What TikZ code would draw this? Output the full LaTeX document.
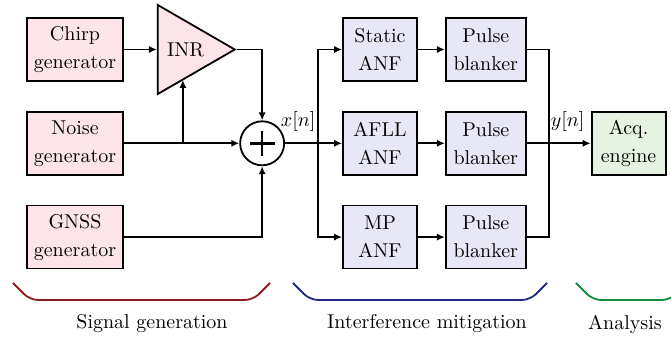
\documentclass[tikz,border=0pt]{standalone}
\usetikzlibrary{arrows.meta,positioning,calc,shapes.geometric}

\definecolor{genfill}{RGB}{252,228,232}
\definecolor{anffill}{RGB}{232,231,245}
\definecolor{acqfill}{RGB}{231,243,226}
\definecolor{gencol}{RGB}{140,28,32}
\definecolor{mitcol}{RGB}{32,40,140}
\definecolor{anacol}{RGB}{26,138,60}

\begin{document}
\begin{tikzpicture}[
  font=\fontsize{10}{14}\selectfont,
  box/.style={rectangle, draw, line width=0.9pt, minimum height=31.5pt, inner sep=0pt, align=center},
  gen/.style={box, fill=genfill, minimum width=48pt},
  anf/.style={box, fill=anffill, minimum width=37pt},
  blk/.style={box, fill=anffill, minimum width=40pt},
  acq/.style={box, fill=acqfill, minimum width=37pt},
  amp/.style={isosceles triangle, isosceles triangle stretches, draw, line width=0.9pt, fill=genfill,
    minimum width=44.5pt, minimum height=38.5pt, inner sep=0pt},
  sumnode/.style={circle, draw, line width=0.9pt, minimum size=22pt, inner sep=0pt},
  sig/.style={-{Latex[length=4pt,width=3.6pt]}, line width=0.8pt},
  wire/.style={line width=0.8pt},
  bus/.style={line width=1.1pt},
  brace/.style={line width=0.9pt, rounded corners=4pt}
]
  \useasboundingbox (0,0) rectangle (335.5pt,171.5pt);

  % signal generation
  \node[gen] (chirp) at (37.5pt,146.75pt) {Chirp\\generator};
  \node[gen, below=14.5pt of chirp] (noise) {Noise\\generator};
  \node[gen, below=14.5pt of noise] (gnss) {GNSS\\generator};
  \node[amp, right=16.5pt of chirp] (inr) {INR};
  \coordinate (inrout) at ($(inr.apex)+(12.5pt,0)$);
  \node[sumnode] (sum) at (inrout |- noise) {};
  \draw[line width=1.3pt] ($(sum.center)+(-6.25pt,0)$) -- ($(sum.center)+(6.25pt,0)$);
  \draw[line width=1.3pt] ($(sum.center)+(0,-6.25pt)$) -- ($(sum.center)+(0,6.25pt)$);

  % interference mitigation
  \node[anf] (stat) at (190pt,146.75pt) {Static\\ANF};
  \node[anf, below=14.5pt of stat] (afll) {AFLL\\ANF};
  \node[anf, below=14.5pt of afll] (mp) {MP\\ANF};
  \node[blk, right=13.5pt of stat] (blk1) {Pulse\\blanker};
  \node[blk, right=13.5pt of afll] (blk2) {Pulse\\blanker};
  \node[blk, right=13.5pt of mp] (blk3) {Pulse\\blanker};

  % analysis
  \node[acq, right=32pt of blk2] (acq) {Acq.\\engine};

  \coordinate (tap) at ($(noise.east)+(29.5pt,0)$);
  \coordinate (tapend) at ($(inr.apex)!0.662!(inr.right corner)$);
  \coordinate (split) at ($(sum.east)+(16.5pt,0)$);
  \coordinate (merge) at ($(blk2.east)+(11pt,0)$);

  \draw[sig] (chirp.east) -- (inr.west);
  \draw[sig] (inr.apex) -| (sum.north);
  \draw[bus] (noise.east) -- (tap);
  \draw[sig] (tap) -- (sum.west);
  \draw[sig] (tap) -- (tap |- tapend);
  \draw[sig] (gnss.east) -| (sum.south);
  \draw[bus] (sum.east) -- node[above=2pt, pos=0.4] {$x[n]$} (split);
  \draw[sig] (split) |- (stat.west);
  \draw[sig] (split) -- (afll.west);
  \draw[sig] (split) |- (mp.west);
  \draw[sig] (stat) -- (blk1);
  \draw[sig] (afll) -- (blk2);
  \draw[sig] (mp) -- (blk3);
  \draw[wire] (blk1.east) -| (merge);
  \draw[wire] (blk3.east) -| (merge);
  \draw[wire] (blk2.east) -- (merge);
  \draw[sig, line width=1.1pt] (merge) -- node[above=2pt, pos=0.45] {$y[n]$} (acq.west);

  % stage braces
  \node (lgen) at (76pt,9.5pt) {Signal generation};
  \node (lmit) at (213.5pt,9.5pt) {Interference mitigation};
  \node (lana) at (312.5pt,9.5pt) {Analysis};
  \draw[brace, gencol] (6.5pt,30pt) -- (15pt,21.5pt) -- (126.5pt,21.5pt) -- (135pt,30pt);
  \draw[brace, mitcol] (146.5pt,30pt) -- (155pt,21.5pt) -- (265pt,21.5pt) -- (273.5pt,30pt);
  \draw[brace, anacol] (288pt,30pt) -- (296.5pt,21.5pt) -- (335pt,21.5pt) -- (343.5pt,30pt);
\end{tikzpicture}
\end{document}
